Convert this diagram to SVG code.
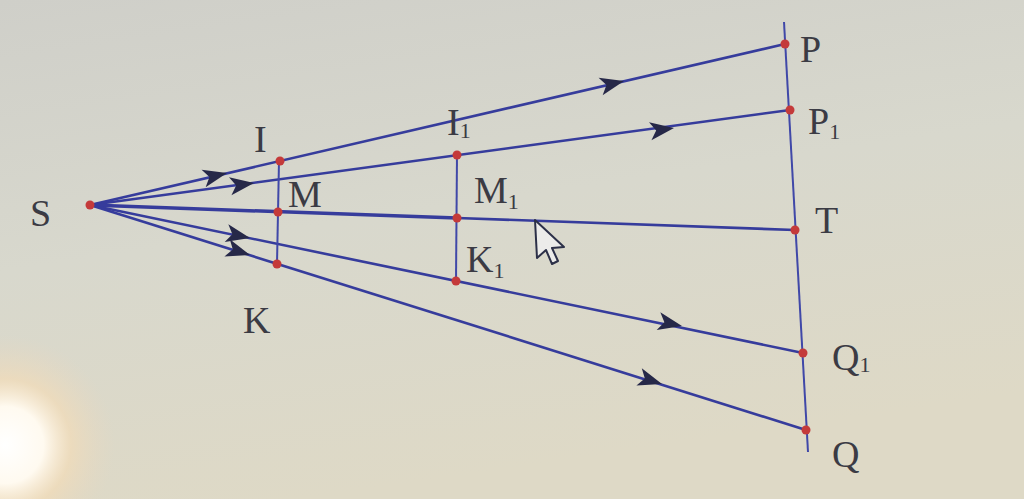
<svg xmlns="http://www.w3.org/2000/svg" width="1024" height="499" viewBox="0 0 1024 499">
<defs>
<linearGradient id="bg" x1="0" y1="0" x2="0.3" y2="1">
<stop offset="0" stop-color="#cfcfc9"/>
<stop offset="0.5" stop-color="#d8d8cd"/>
<stop offset="1" stop-color="#ded9c6"/>
</linearGradient>
<radialGradient id="glare" cx="5" cy="445" r="110" gradientUnits="userSpaceOnUse">
<stop offset="0" stop-color="#ffffff"/>
<stop offset="0.35" stop-color="#fffaf0"/>
<stop offset="0.6" stop-color="#f3dcb8" stop-opacity="0.7"/>
<stop offset="1" stop-color="#e8d8c0" stop-opacity="0"/>
</radialGradient>
<path id="arr" d="M0,0 L-24,-9 L-18,0 L-24,9 Z"/>
<style>
.ln{stroke:#363c9c;stroke-width:2.6;fill:none}
.vl{stroke:#4048a8;stroke-width:2;fill:none}
.pt{fill:#c43a3a}
.ah{fill:#262848}
.lb{font-family:"Liberation Serif","DejaVu Serif",serif;font-size:38px;fill:#3b3b44}
.sub{font-size:22px}
</style>
</defs>
<rect width="1024" height="499" fill="url(#bg)"/>
<rect width="1024" height="499" fill="url(#glare)"/>

<g id="connectors">
<line class="ln" x1="90" y1="205" x2="785" y2="44"/>
<line class="ln" x1="90" y1="205" x2="790" y2="110"/>
<line class="ln" x1="90" y1="205" x2="457" y2="218" style="stroke-width:3.5"/>
<line class="ln" x1="457" y1="218" x2="795" y2="230"/>
<line class="ln" x1="90" y1="205" x2="803" y2="353"/>
<line class="ln" x1="90" y1="205" x2="806" y2="430"/>
<line class="vl" x1="279" y1="161" x2="277" y2="264"/>
<line class="vl" x1="457" y1="155" x2="456" y2="281"/>
<line class="vl" x1="784" y1="22" x2="808" y2="452"/>
<use href="#arr" class="ah" transform="translate(227,173) rotate(-13)"/>
<use href="#arr" class="ah" transform="translate(254,183) rotate(-7.7)"/>
<use href="#arr" class="ah" transform="translate(250,238) rotate(11.7)"/>
<use href="#arr" class="ah" transform="translate(250,255) rotate(17.4)"/>
<use href="#arr" class="ah" transform="translate(624,81) rotate(-13)"/>
<use href="#arr" class="ah" transform="translate(674,128) rotate(-7.7)"/>
<use href="#arr" class="ah" transform="translate(682,326) rotate(11.7)"/>
<use href="#arr" class="ah" transform="translate(662,384) rotate(17.4)"/>
</g>

<g id="S"><circle class="pt" cx="90" cy="205" r="4.5"/><text class="lb" x="30" y="226">S</text></g>
<g id="I"><circle class="pt" cx="280" cy="161" r="4.5"/><text class="lb" x="254" y="152">I</text></g>
<g id="M"><circle class="pt" cx="278" cy="212" r="4.5"/><text class="lb" x="288" y="207">M</text></g>
<g id="K"><circle class="pt" cx="277" cy="264" r="4.5"/><text class="lb" x="243" y="333">K</text></g>
<g id="I1"><text class="lb" x="447" y="135">I<tspan class="sub" dy="3">1</tspan></text></g>
<g id="M1point"><circle class="pt" cx="457" cy="155" r="4.5"/></g>
<g id="M1"><circle class="pt" cx="457" cy="218" r="4.5"/><text class="lb" x="474" y="203">M<tspan class="sub" dy="6">1</tspan></text></g>
<g id="K1"><circle class="pt" cx="456" cy="281" r="4.5"/><text class="lb" x="466" y="272">K<tspan class="sub" dy="6">1</tspan></text></g>
<g id="P"><circle class="pt" cx="785" cy="44" r="4.5"/><text class="lb" x="800" y="62">P</text></g>
<g id="P1"><circle class="pt" cx="790" cy="110" r="4.5"/><text class="lb" x="808" y="134">P<tspan class="sub" dy="5">1</tspan></text></g>
<g id="T"><circle class="pt" cx="795" cy="230" r="4.5"/><text class="lb" x="815" y="233">T</text></g>
<g id="Q1"><circle class="pt" cx="803" cy="353" r="4.5"/><text class="lb" x="832" y="370">Q<tspan class="sub" dy="2">1</tspan></text></g>
<g id="Q"><circle class="pt" cx="806" cy="430" r="4.5"/><text class="lb" x="832" y="467">Q</text></g>

<g id="cursor"><polygon points="535,220 537,258 546,250 552,264 558,261 552,248 564,247" fill="#ececea" stroke="#2c3048" stroke-width="2" stroke-linejoin="round"/></g>
</svg>
